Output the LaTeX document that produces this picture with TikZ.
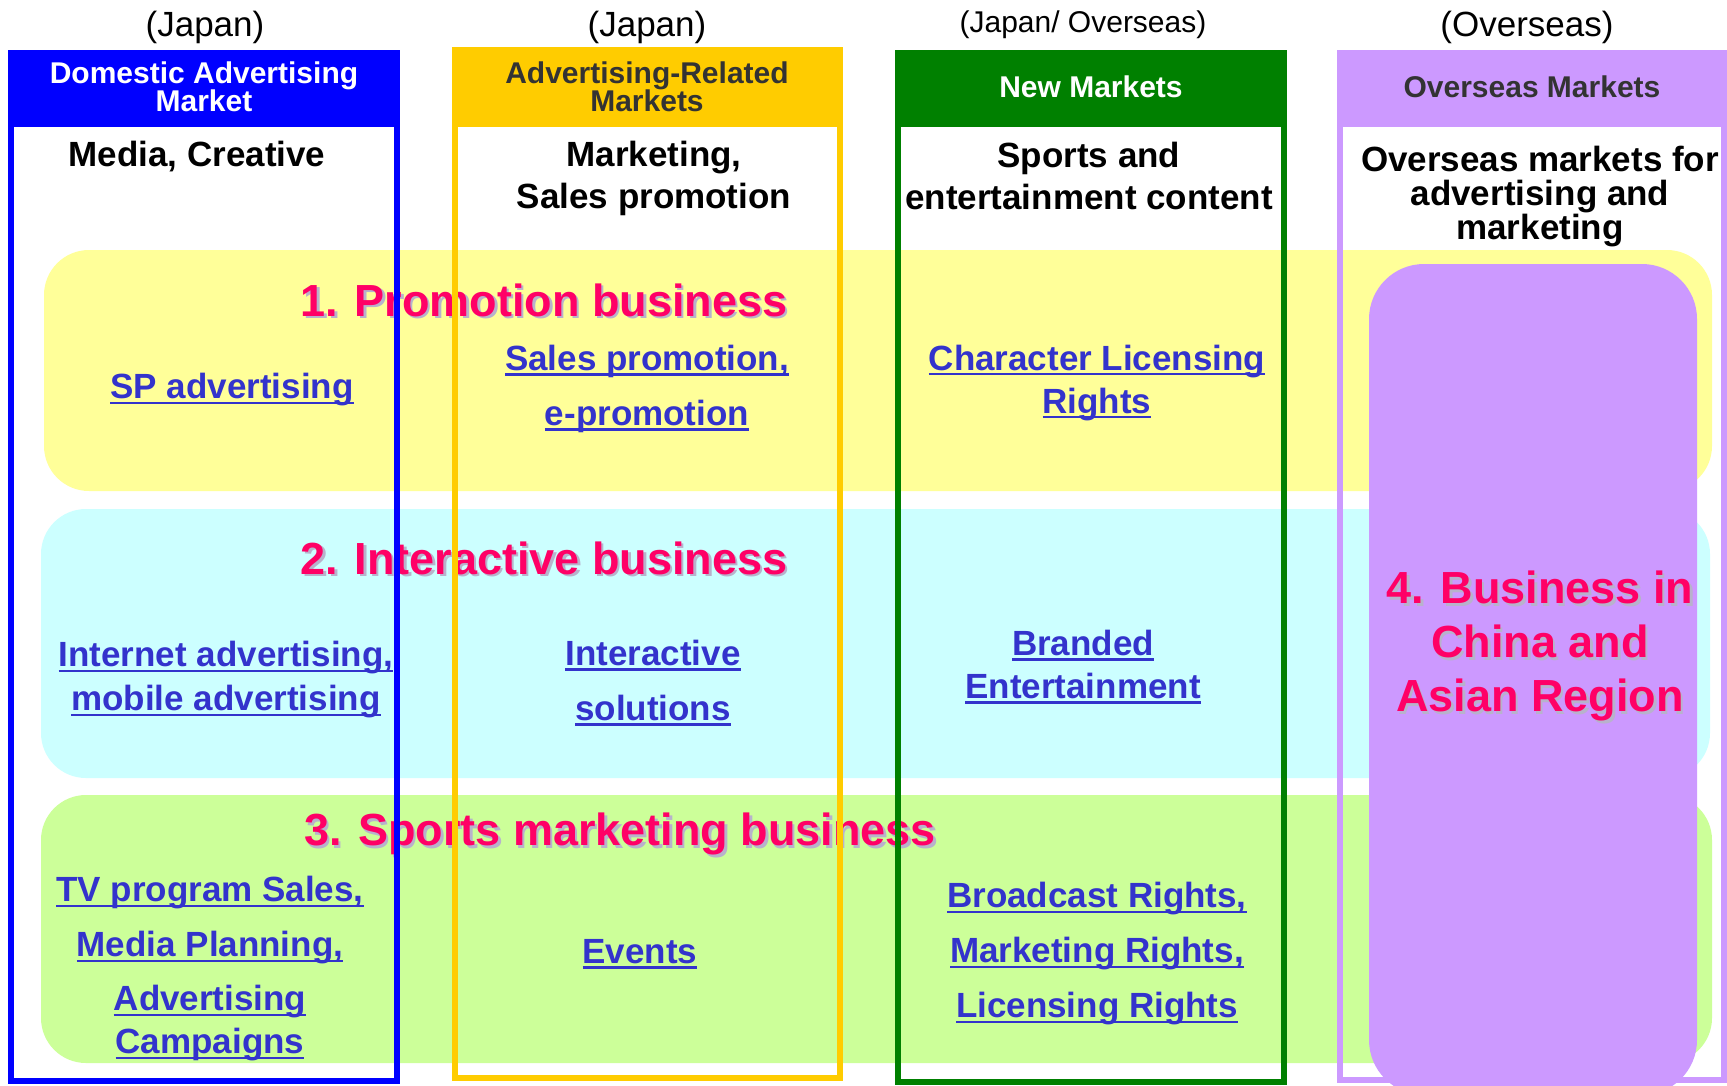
\documentclass[tikz,border=0pt]{standalone}
\usepackage{fontspec}
\setmainfont{Liberation Sans}

\definecolor{colBlue}{HTML}{0000FF}
\definecolor{colGold}{HTML}{FFCC00}
\definecolor{colGreen}{HTML}{008000}
\definecolor{colPurple}{HTML}{CC99FF}
\definecolor{bandYellow}{HTML}{FFFF99}
\definecolor{bandCyan}{HTML}{CCFFFF}
\definecolor{bandGreen}{HTML}{CCFF99}
\definecolor{titleRed}{HTML}{FF0066}
\definecolor{titleShade}{HTML}{B8B2CC}
\definecolor{linkBlue}{HTML}{3333CC}
\definecolor{headGray}{HTML}{333333}

% underlined link text
\newsavebox\lkbox
\newcommand\lk[1]{\sbox\lkbox{#1}\rlap{\rule[-5pt]{\wd\lkbox}{2.4pt}}\usebox\lkbox}
\newcommand\fs[2]{\fontsize{#1}{#2}\selectfont}
\lineskiplimit=-100pt

\tikzset{
  where/.style={font=\fs{35}{40}, inner sep=0pt},
  colhead/.style={font=\bfseries\fs{30}{28}, align=center, inner sep=0pt},
  subhead/.style={font=\bfseries\fs{35}{42}, align=center, inner sep=0pt},
  bizTitle/.style={font=\bfseries\fs{45}{54}, text=titleRed, align=center, inner sep=0pt},
  bizShade/.style={bizTitle, text=titleShade},
  link/.style={font=\bfseries\fs{35}{43}, text=linkBlue, align=center, inner sep=0pt},
  band/.style={rounded corners=45pt},
  colframe/.style={line width=6pt}
}

\begin{document}
\begin{tikzpicture}[x=1pt,y=-1pt]
\useasboundingbox[fill=white] (0,0) rectangle (1727,1085);

% column header bars
\fill[colBlue]   (8,50)    rectangle (400,127);
\fill[colGold]   (452,47)  rectangle (843,127);
\fill[colGreen]  (895,50)  rectangle (1287,127);
\fill[colPurple] (1337,50) rectangle (1727,127);

% business bands
\fill[bandYellow, band] (44,250) rectangle (1712,491);
\fill[bandCyan,   band] (41,509) rectangle (1710,778);
\fill[bandGreen,  band] (41,795) rectangle (1712,1063);

% overseas business block
\fill[colPurple, rounded corners=55pt] (1369,264) rectangle (1697,1095);

% market scope labels
\node[where] (w1) at (205,27) {(Japan)};
\node[where] (w2) at (647,27) {(Japan)};
\node[where, font=\fs{30}{36}] (w3) at (1083,25) {(Japan/ Overseas)};
\node[where] (w4) at (1527,27) {(Overseas)};

% column headers
\node[colhead, text=white]    (h1) at (204,87)  {Domestic Advertising\\Market};
\node[colhead, text=headGray] (h2) at (647,87)  {Advertising-Related\\Markets};
\node[colhead, text=white]    (h3) at (1091,87) {New Markets};
\node[colhead, text=headGray] (h4) at (1532,87) {Overseas Markets};

% column subjects
\node[subhead] (s1) at (197,157)  {Media, Creative};
\node[subhead] (s2) at (654,178)  {Marketing,\\Sales promotion};
\node[subhead] (s3) at (1089,176) {Sports and\\entertainment content};
\node[subhead, font=\bfseries\fs{35}{34}] (s4) at (1540,197) {Overseas markets for\\advertising and\\marketing};

% business titles
\node[bizShade] (t1s) at (546.5,302.5) {1. Promotion business};
\node[bizTitle] (t1)  at (544,300)     {1. Promotion business};
\node[bizShade] (t2s) at (546.5,560.5) {2. Interactive business};
\node[bizTitle] (t2)  at (544,558)     {2. Interactive business};
\node[bizShade] (t3s) at (622.5,836.5) {3. Sports marketing business};
\node[bizTitle] (t3)  at (620,834)     {3. Sports marketing business};
\node[bizShade] (t4s) at (1542.5,648.5) {4. Business in\\China and\\Asian Region};
\node[bizTitle] (t4)  at (1540,646)     {4. Business in\\China and\\Asian Region};

% promotion business items
\node[link] (p1) at (232,390)  {\lk{SP advertising}};
\node[link] (p2) at (647,389)  {\lk{Sales promotion,}\\[12pt]\lk{e-promotion}};
\node[link] (p3) at (1097,383) {\lk{Character Licensing}\\\lk{Rights}};

% interactive business items
\node[link] (i1) at (226,680)  {\lk{Internet advertising,}\\[1pt]\lk{mobile advertising}};
\node[link] (i2) at (653,683)  {\lk{Interactive}\\[12pt]\lk{solutions}};
\node[link] (i3) at (1083,667) {\lk{Branded}\\\lk{Entertainment}};

% sports marketing business items
\node[link] (m1) at (210,969)  {\lk{TV program Sales,}\\[12pt]\lk{Media Planning,}\\[11pt]\lk{Advertising}\\\lk{Campaigns}};
\node[link] (m2) at (640,954)  {\lk{Events}};
\node[link] (m3) at (1097,954) {\lk{Broadcast Rights,}\\[12pt]\lk{Marketing Rights,}\\[12pt]\lk{Licensing Rights}};

% column frames
\draw[colframe, colBlue]   (11,53)   rectangle (397,1080.5);
\draw[colframe, colGold]   (455,50)  rectangle (840,1077.5);
\draw[colframe, colGreen]  (898,53)  rectangle (1284,1082);
\draw[colframe, colPurple] (1340,53) rectangle (1724,1080);
\end{tikzpicture}
\end{document}
